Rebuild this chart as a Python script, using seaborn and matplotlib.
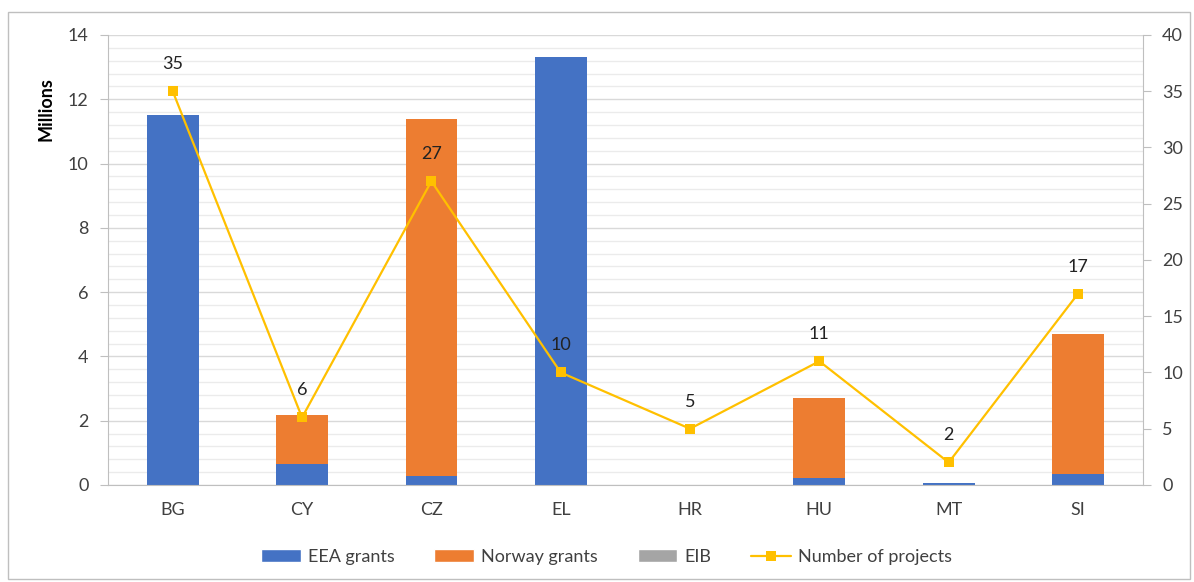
import numpy as np
import pandas as pd
import matplotlib
matplotlib.use("Agg")
import matplotlib.pyplot as plt
from matplotlib.patches import Patch, Rectangle
from matplotlib.lines import Line2D
from matplotlib.ticker import MultipleLocator, FixedLocator
import seaborn as sns

# Données
pays = ["BG", "CY", "CZ", "EL", "HR", "HU", "MT", "SI"]
eea_grants = [11.5, 0.65, 0.28, 13.3, 0.0, 0.22, 0.05, 0.34]
norway_grants = [0.0, 1.53, 11.1, 0.0, 0.0, 2.5, 0.0, 4.36]
eib = [0.0, 0.0, 0.0, 0.0, 0.0, 0.0, 0.0, 0.0]
nb_projets = [35, 6, 27, 10, 5, 11, 2, 17]

c_eea = "#4472C4"
c_nor = "#ED7D31"
c_eib = "#A5A5A5"
c_ligne = "#FFC000"
c_texte = "#404040"

sns.set_style("white")
plt.rcParams["font.family"] = ["Lato", "DejaVu Sans"]

df = pd.DataFrame({"pays": pays, "eea": eea_grants, "norway": norway_grants, "eib": eib})
df["norway_cum"] = df["eea"] + df["norway"]
df["eib_cum"] = df["norway_cum"] + df["eib"]

fig = plt.figure(figsize=(11.94, 5.82), dpi=100)
ax = fig.add_axes([0.0905, 0.1667, 0.8665, 0.7732])

# Barres empilées (superposition des cumuls)
sns.barplot(data=df, x="pays", y="eib_cum", color=c_eib, width=0.4, ax=ax, saturation=1, linewidth=0)
sns.barplot(data=df, x="pays", y="norway_cum", color=c_nor, width=0.4, ax=ax, saturation=1, linewidth=0)
sns.barplot(data=df, x="pays", y="eea", color=c_eea, width=0.4, ax=ax, saturation=1, linewidth=0)

ax.set_ylim(0, 14)
ax.set_xlim(-0.5, len(pays) - 0.5)
ax.yaxis.set_major_locator(MultipleLocator(2))
ax.yaxis.set_minor_locator(MultipleLocator(0.4))
ax.grid(which="minor", axis="y", color="#EBEBEB", linewidth=1)
ax.grid(which="major", axis="y", color="#D9D9D9", linewidth=1)
ax.set_axisbelow(True)
ax.set_xlabel("")
ax.set_ylabel("Millions", fontsize=13, fontweight="bold", color="black")
ax.yaxis.set_label_coords(-0.052, 0.835)

ax.xaxis.set_minor_locator(FixedLocator(np.arange(-0.5, len(pays), 1)))
ax.tick_params(axis="x", which="major", length=0, labelsize=13, labelcolor=c_texte, pad=12)
ax.tick_params(axis="x", which="minor", length=6, color="#BFBFBF", width=1)
ax.tick_params(axis="y", which="major", length=6, color="#BFBFBF", labelsize=13, labelcolor=c_texte, pad=8)
ax.tick_params(axis="y", which="minor", length=0)

for s in ["top", "right"]:
    ax.spines[s].set_visible(False)
for s in ["left", "bottom"]:
    ax.spines[s].set_color("#BFBFBF")

# Axe secondaire : nombre de projets
ax2 = ax.twinx()
sns.lineplot(x=np.arange(len(pays)), y=nb_projets, ax=ax2, color=c_ligne, linewidth=1.6,
             marker="s", markersize=7, markeredgewidth=0)
ax2.set_ylim(0, 40)
ax2.yaxis.set_major_locator(MultipleLocator(5))
ax2.tick_params(axis="y", length=6, color="#BFBFBF", labelsize=13, labelcolor=c_texte, pad=8)
for s in ["top", "left", "bottom"]:
    ax2.spines[s].set_visible(False)
ax2.spines["right"].set_color("#BFBFBF")
ax2.set_ylabel("")

for i, n in enumerate(nb_projets):
    ax2.annotate(str(n), (i, n), xytext=(0, 27), textcoords="offset pixels",
                 ha="center", va="center", fontsize=13, color="#222222")

handles = [
    Patch(facecolor=c_eea, label="EEA grants"),
    Patch(facecolor=c_nor, label="Norway grants"),
    Patch(facecolor=c_eib, label="EIB"),
    Line2D([0], [0], color=c_ligne, linewidth=1.6, marker="s", markersize=7,
           markeredgewidth=0, label="Number of projects"),
]
fig.legend(handles=handles, loc="center", bbox_to_anchor=(0.508, 0.043), ncol=4,
           frameon=False, fontsize=13, handlelength=2.2, handleheight=0.7,
           columnspacing=2.2, handletextpad=0.4, labelcolor=c_texte)

# Cadre extérieur
fig.patches.append(Rectangle((0.007, 0.005), 0.99, 0.975, transform=fig.transFigure,
                             fill=False, edgecolor="#BFBFBF", linewidth=1))

fig.savefig("out.png", dpi=100)
